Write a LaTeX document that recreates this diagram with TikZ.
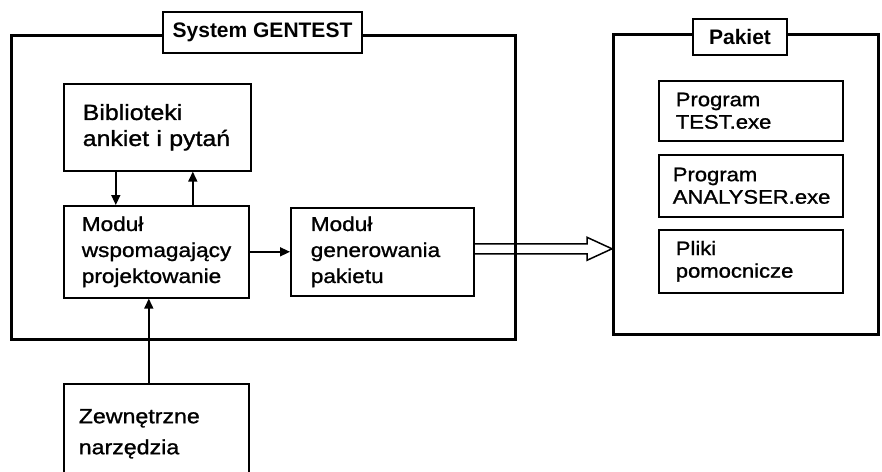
\documentclass[tikz,border=0pt]{standalone}
\usepackage{fontspec}
\setmainfont[FakeStretch=1.13,FakeBold=1.2]{Liberation Sans}
\newfontfamily\titlefont{Liberation Sans}
\usetikzlibrary{arrows.meta,calc}
\begin{document}
\begin{tikzpicture}[x=1pt,y=-1pt,
  frame/.style={draw, line width=3pt, anchor=north west, inner sep=0pt},
  titlebox/.style={draw, fill=white, line width=1.6pt, inner sep=0pt, font={\titlefont\bfseries\fontsize{21}{21}\selectfont}},
  box/.style={draw, line width=1.6pt, anchor=north west, align=left, inner ysep=0pt},
  arr/.style={line width=1.5pt, -{Triangle[length=10pt,width=9pt]}},
  fbig/.style={font={\fontsize{22}{26}\selectfont}},
  fmid/.style={font={\fontsize{20}{26}\selectfont}},
  fpak/.style={font={\fontsize{19.5}{22.5}\selectfont}}
]
\useasboundingbox (0,0) rectangle (882,471);
\fill[white] (0,0) rectangle (882,471);
\clip (0,0) rectangle (882,471);

% outer frames
\node[frame, minimum width=504pt, minimum height=304pt] (sys) at (10,34) {};
\node[frame, minimum width=265pt, minimum height=300pt] (pak) at (612,33) {};

% hollow arrow from generator to package
\node[box, fmid, inner xsep=20pt, text width=143pt, minimum height=88pt] (gen) at (290,207) {Moduł\\generowania\\pakietu};
\coordinate (hs) at ([yshift=3pt]gen.east);
\coordinate (he) at (pak.west |- hs);
\draw[line width=1.5pt, line join=miter]
  ($(hs)+(0,-5)$) -- ($(he)+(-25,-5)$) -- ($(he)+(-25,-11.5)$) -- (he)
  -- ($(he)+(-25,11.5)$) -- ($(he)+(-25,5)$) -- ($(hs)+(0,5)$);

% titles
\node[titlebox, minimum width=199pt, minimum height=41pt] (syst) at (262.5,32.5) {System GENTEST};
\node[titlebox, minimum width=94pt, minimum height=36pt] (pakt) at (740,37) {Pakiet};

% boxes inside GENTEST
\node[box, fbig, inner xsep=19pt, text width=149pt, minimum height=87pt] (bib) at (63,83) {Biblioteki\\\mbox{ankiet i pytań}};
\node[box, fmid, inner xsep=18pt, text width=149pt, minimum height=92pt] (wsp) at (63,205) {Moduł\\wspomagający\\projektowanie};
\node[box, font={\fontsize{20.5}{31}\selectfont}, inner xsep=15pt, text width=155pt, minimum height=100pt] (zew) at (63,383) {Zewnętrzne\\narzędzia};

% boxes inside Pakiet
\node[box, fpak, inner xsep=17pt, text width=150pt, minimum height=60pt] (test) at (658,80) {Program\\TEST.exe};
\node[box, fpak, inner xsep=14pt, text width=156pt, minimum height=62pt] (anal) at (658,154) {Program\\ANALYSER.exe};
\node[box, fpak, inner xsep=17pt, text width=150pt, minimum height=63pt] (plik) at (658,229) {Pliki\\pomocnicze};

% connectors
\draw[arr] ([xshift=-41.5pt]bib.south) -- ([xshift=-40.5pt]wsp.north);
\draw[arr] ([xshift=36.5pt]wsp.north) -- ([xshift=35.5pt]bib.south);
\draw[arr] ([xshift=-7.5pt]zew.north) -- ([xshift=-7.5pt]wsp.south);
\draw[arr] (wsp.east) -- (gen.west);
\end{tikzpicture}
\end{document}
